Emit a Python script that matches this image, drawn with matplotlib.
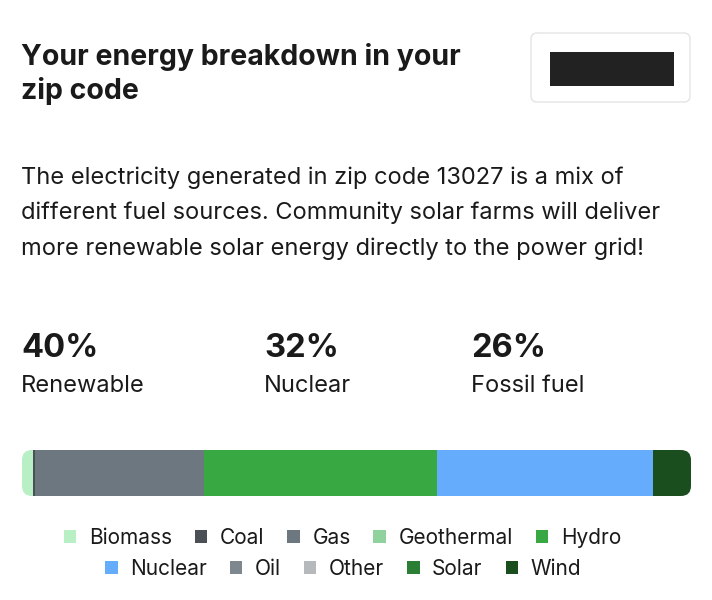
import matplotlib.pyplot as plt
from matplotlib.patches import FancyBboxPatch

plt.rcParams['font.family'] = ['Inter', 'DejaVu Sans']

# данные
sources = ['Biomass', 'Coal', 'Gas', 'Geothermal', 'Hydro',
           'Nuclear', 'Oil', 'Other', 'Solar', 'Wind']
shares = [1.6, 0.3, 25.3, 0.0, 34.8, 32.3, 0.0, 0.0, 0.0, 5.7]
colors = ['#b8efc4', '#4b5057', '#6c7780', '#8fd29e', '#38a843',
          '#65adfc', '#7e878d', '#b6b9bb', '#2b7f35', '#1b4e1f']

stat_values = ['40%', '32%', '26%']
stat_labels = ['Renewable', 'Nuclear', 'Fossil fuel']

title = 'Your energy breakdown in your\nzip code'
body = ('The electricity generated in zip code 13027 is a mix of\n'
        'different fuel sources. Community solar farms will deliver\n'
        'more renewable solar energy directly to the power grid!')

W, H = 712, 600
fig = plt.figure(figsize=(W / 100, H / 100), dpi=100)
fig.patch.set_facecolor('white')


def fx(px):
    return px / W


def fy(py):
    return 1 - py / H


text_color = '#1a1a1a'

# Заголовок
for i, line in enumerate(title.split('\n')):
    fig.text(fx(21), fy(65 + i * 34), line, fontsize=20.5,
             fontweight='bold', color=text_color, va='baseline')

# рамка справа сверху
box_ax = fig.add_axes([0, 0, 1, 1], zorder=-1)
box_ax.set_xlim(0, W)
box_ax.set_ylim(H, 0)
box_ax.axis('off')
box_ax.add_patch(FancyBboxPatch((531, 33), 159, 69,
                                boxstyle='round,pad=0,rounding_size=6',
                                facecolor='white', edgecolor='#e4e4e4', lw=1))
box_ax.add_patch(plt.Rectangle((550, 52), 124, 34, facecolor='#222222',
                               edgecolor='none'))

# Текст
for i, line in enumerate(body.split('\n')):
    fig.text(fx(21), fy(184 + i * 35.5), line, fontsize=17,
             color=text_color, va='baseline')

# Статистика
stat_x = [21, 264, 471]
for x, v, lab in zip(stat_x, stat_values, stat_labels):
    fig.text(fx(x), fy(357), v, fontsize=23.5, fontweight='bold',
             color=text_color, va='baseline')
    fig.text(fx(x), fy(392), lab, fontsize=17, color=text_color,
             va='baseline')

# Полоса
bar_left, bar_top, bar_w, bar_h = 22, 450, 669, 46
ax = fig.add_axes([fx(bar_left), fy(bar_top + bar_h), fx(bar_w), bar_h / H])
ymax = 100 * bar_h / bar_w
ax.set_xlim(0, 100)
ax.set_ylim(0, ymax)
ax.axis('off')

clip = FancyBboxPatch((0, 0), 100, ymax,
                      boxstyle='round,pad=0,rounding_size=1.5',
                      facecolor='none', edgecolor='none',
                      transform=ax.transData)
ax.add_patch(clip)

handles = []
left = 0
for name, val, c in zip(sources, shares, colors):
    bars = ax.barh(ymax / 2, val, height=ymax, left=left, color=c,
                   edgecolor='none', label=name)
    for b in bars:
        b.set_clip_path(clip)
    handles.append(bars)
    left += val

# Легенда в две строки
leg_kw = dict(frameon=False, fontsize=15, handlelength=0.6,
              handleheight=0.6, handletextpad=0.6, columnspacing=1.1,
              labelcolor=text_color, borderaxespad=0, borderpad=0)
leg1 = fig.legend(handles[:5], sources[:5], ncol=5, loc='center',
                  bbox_to_anchor=(0.481, fy(538)), **leg_kw)
leg2 = fig.legend(handles[5:], sources[5:], ncol=5, loc='center',
                  bbox_to_anchor=(0.482, fy(569)), **leg_kw)

fig.savefig('out.png', dpi=100, facecolor='white')
